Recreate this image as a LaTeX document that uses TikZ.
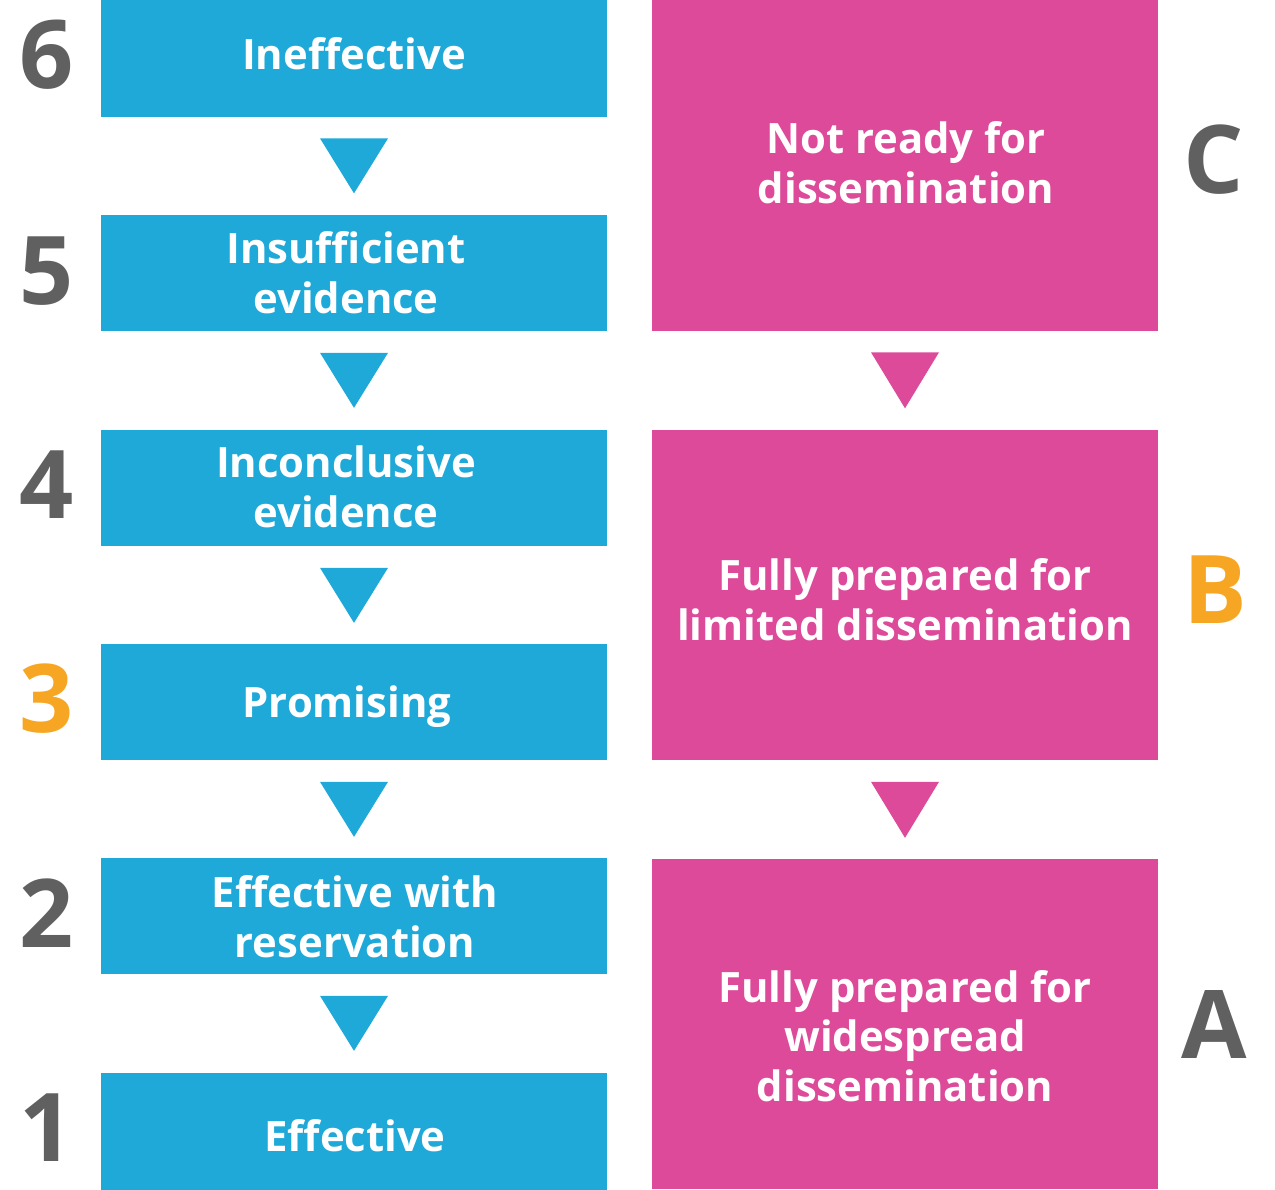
\documentclass[tikz,border=0pt]{standalone}
\usepackage{fontspec}
\setmainfont{Open Sans}
\usetikzlibrary{calc}
\definecolor{stepblue}{RGB}{31,169,216}
\definecolor{readypink}{RGB}{221,74,154}
\definecolor{rankgrey}{RGB}{96,96,96}
\definecolor{rankorange}{RGB}{247,166,35}
\newcommand\boxfont{\fontsize{23.8}{28.3}\selectfont\bfseries}
\newcommand\rankfont{\fontsize{54}{60}\selectfont\bfseries}
\begin{document}
\begin{tikzpicture}[x=0.02cm,y=-0.02cm,
  evbox/.style={fill=stepblue,minimum width=10.12cm,minimum height=2.34cm,inner sep=0pt},
  prepbox/.style={fill=readypink,minimum width=10.12cm,minimum height=6.62cm,inner sep=0pt},
  boxtext/.style={text=white,align=center,inner sep=0pt,font=\boxfont},
  rank/.style={text=rankgrey,font=\rankfont,inner sep=0pt}]
   \useasboundingbox (0,0) rectangle (1275,1190);

   % evidence levels
   \node[evbox,label={[boxtext,shift={(0,-5)}]center:Ineffective}] (ineff) at (354,58.5) {};
   \node[evbox,label={[boxtext,shift={(-8,0)}]center:Insufficient\\evidence}] (insuff) at (354,273) {};
   \node[evbox,label={[boxtext,shift={(-8,-1)}]center:Inconclusive\\evidence}] (inconcl) at (354,488) {};
   \node[evbox,label={[boxtext,shift={(-7,5)}]center:Promising}] (prom) at (354,702) {};
   \node[evbox,label={[boxtext,shift={(1,1)}]center:Effective with\\reservation}] (effres) at (354,916) {};
   \node[evbox,label={[boxtext,shift={(1,4)}]center:Effective}] (eff) at (354,1131.5) {};

   % readiness
   \node[prepbox,label={[boxtext,shift={(1,-3)}]center:Not ready for\\dissemination}] (notready) at (905,165.5) {};
   \node[prepbox,label={[boxtext,shift={(0,5)}]center:Fully prepared for\\limited dissemination}] (limited) at (905,595) {};
   \node[prepbox,label={[boxtext,shift={(0,12)}]center:Fully prepared for\\widespread\\dissemination}] (widespread) at (905,1024) {};

   \foreach \a in {ineff,insuff,inconcl,prom,effres}
     \fill[stepblue] ($(\a.south)+(-34,21)$) -- ($(\a.south)+(34,21)$) -- ($(\a.south)+(0,76)$) -- cycle;
   \foreach \a in {notready,limited}
     \fill[readypink] ($(\a.south)+(-34,21)$) -- ($(\a.south)+(34,21)$) -- ($(\a.south)+(0,77)$) -- cycle;

   % ranks
   \node[rank] (r6) at (47,55) {6};
   \node[rank] (r5) at (47,271) {5};
   \node[rank] (r4) at (47,485) {4};
   \node[rank,text=rankorange] (r3) at (47,699) {3};
   \node[rank] (r2) at (47,913) {2};
   \node[rank] (r1) at (47,1128) {1};

   \node[rank] (lc) at (1214,160) {C};
   \node[rank,text=rankorange] (lb) at (1215,590) {B};
   \node[rank] (la) at (1214,1024) {A};
\end{tikzpicture}
\end{document}
